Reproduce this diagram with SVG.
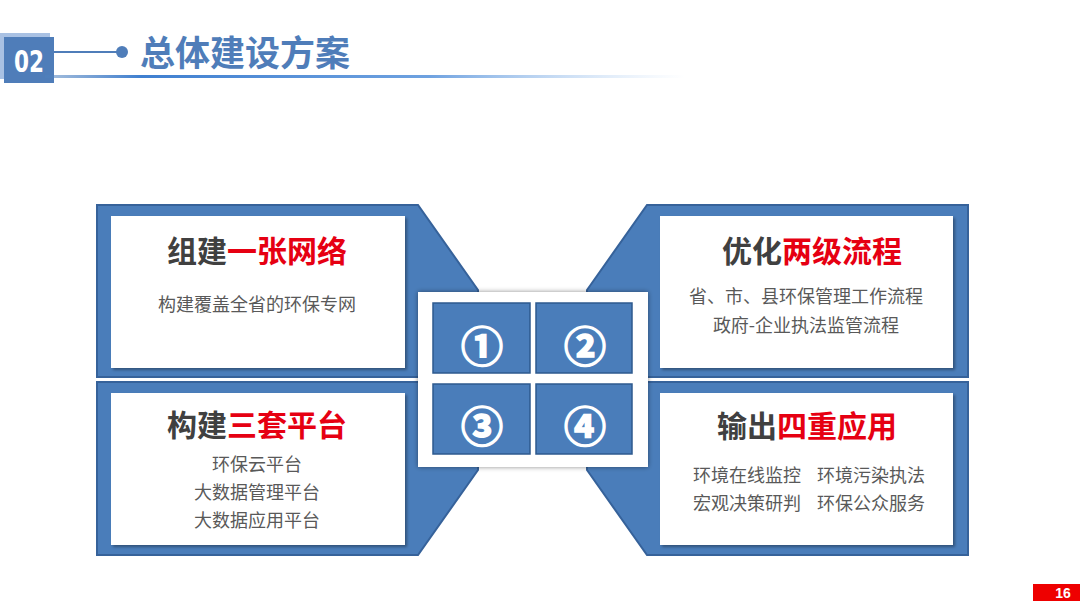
<svg xmlns="http://www.w3.org/2000/svg" width="1080" height="608" viewBox="0 0 1080 608">
<defs>
<linearGradient id="uline" x1="0" y1="0" x2="1" y2="0">
<stop offset="0" stop-color="#4F81BD" stop-opacity="0.5"/>
<stop offset="0.15" stop-color="#3F7FD0" stop-opacity="1"/>
<stop offset="0.6" stop-color="#4A8AD8" stop-opacity="0.8"/>
<stop offset="1" stop-color="#9CC3EE" stop-opacity="0"/>
</linearGradient>
<filter id="sh" x="-10%" y="-10%" width="125%" height="125%">
<feDropShadow dx="2" dy="2" stdDeviation="1.5" flood-color="#000" flood-opacity="0.35"/>
</filter>
<filter id="sh2" x="-10%" y="-10%" width="120%" height="120%">
<feDropShadow dx="0" dy="0" stdDeviation="2.5" flood-color="#000" flood-opacity="0.45"/>
</filter>
</defs>
<style>
.blue{fill:#4A7DBA;stroke:#36629A;stroke-width:2}
.card{fill:#FFFFFF;filter:url(#sh)}
.tile{fill:#4A7DBA;stroke:#2E5A8E;stroke-width:1.5}
.num{font-family:"Noto Sans CJK SC","DejaVu Sans",sans-serif;font-size:42px;font-weight:bold;fill:#FFFFFF;stroke:#FFFFFF;stroke-width:1.6;text-anchor:middle}
.ttl{font-family:"Noto Sans CJK SC",sans-serif;font-size:30px;font-weight:bold;text-anchor:middle;fill:#404040}
.red{fill:#E60012}
.body{font-family:"Noto Sans CJK SC",sans-serif;font-size:18px;fill:#595959;text-anchor:middle}
.bodyl{font-family:"Noto Sans CJK SC",sans-serif;font-size:18px;fill:#595959}
</style>
<rect width="1080" height="608" fill="#FFFFFF"/>
<g id="header">
<rect x="0" y="33" width="50" height="46" fill="#A9C1E3"/>
<rect x="4" y="37" width="50" height="46" fill="#4F7DB9"/>
<text transform="translate(29,72) scale(0.72,1)" x="0" y="0" font-family="'DejaVu Sans',sans-serif" font-weight="bold" font-size="30" fill="#FFFFFF" text-anchor="middle">02</text>
<line x1="54" y1="52" x2="120" y2="52" stroke="#4F7DB9" stroke-width="2"/>
<circle cx="122" cy="52" r="6" fill="#4F7DB9"/>
<text x="140" y="66" font-family="'Noto Sans CJK SC',sans-serif" font-weight="bold" font-size="35" fill="#4F7DB9">总体建设方案</text>
<rect x="45" y="75" width="640" height="3" fill="url(#uline)"/>
</g>
<g id="node-network">
<polygon class="blue" points="97,205 418,205 478,290 478,377 97,377"/>
<rect class="card" x="111" y="216" width="294" height="152"/>
<text class="ttl" x="257" y="262">组建<tspan class="red">一张网络</tspan></text>
<text class="body" x="257" y="311">构建覆盖全省的环保专网</text>
</g>
<g id="node-process">
<polygon class="blue" points="647,205 968,205 968,377 587,377 587,290"/>
<rect class="card" x="660" y="216" width="293" height="152"/>
<text class="ttl" x="812" y="262">优化<tspan class="red">两级流程</tspan></text>
<text class="body" x="806" y="303">省、市、县环保管理工作流程</text>
<text class="body" x="806" y="332">政府-企业执法监管流程</text>
</g>
<g id="node-platform">
<polygon class="blue" points="97,382 478,382 478,470 418,555 97,555"/>
<rect class="card" x="111" y="393" width="294" height="152"/>
<text class="ttl" x="257" y="436">构建<tspan class="red">三套平台</tspan></text>
<text class="body" x="257" y="471">环保云平台</text>
<text class="body" x="257" y="499">大数据管理平台</text>
<text class="body" x="257" y="527">大数据应用平台</text>
</g>
<g id="node-application">
<polygon class="blue" points="587,382 968,382 968,555 647,555 587,470"/>
<rect class="card" x="660" y="393" width="293" height="152"/>
<text class="ttl" x="807" y="437">输出<tspan class="red">四重应用</tspan></text>
<text class="bodyl" x="693" y="482">环境在线监控</text>
<text class="bodyl" x="817" y="482">环境污染执法</text>
<text class="bodyl" x="693" y="510">宏观决策研判</text>
<text class="bodyl" x="817" y="510">环保公众服务</text>
</g>
<g id="node-center">
<rect x="418" y="292" width="230" height="175" fill="#FFFFFF" filter="url(#sh2)"/>
<g id="tile-1">
<rect class="tile" x="433" y="303" width="97" height="70"/>
<text class="num" x="482" y="362">①</text>
</g>
<g id="tile-2">
<rect class="tile" x="536" y="303" width="96" height="70"/>
<text class="num" x="585" y="362">②</text>
</g>
<g id="tile-3">
<rect class="tile" x="433" y="384" width="97" height="70"/>
<text class="num" x="482" y="442">③</text>
</g>
<g id="tile-4">
<rect class="tile" x="536" y="384" width="96" height="70"/>
<text class="num" x="585" y="442">④</text>
</g>
</g>
<g id="page-number">
<rect x="1033" y="584" width="47" height="17" fill="#EE0000"/>
<text x="1063" y="598" font-family="'Liberation Sans',sans-serif" font-weight="bold" font-size="14" fill="#FFFFFF" text-anchor="middle">16</text>
</g>
</svg>
